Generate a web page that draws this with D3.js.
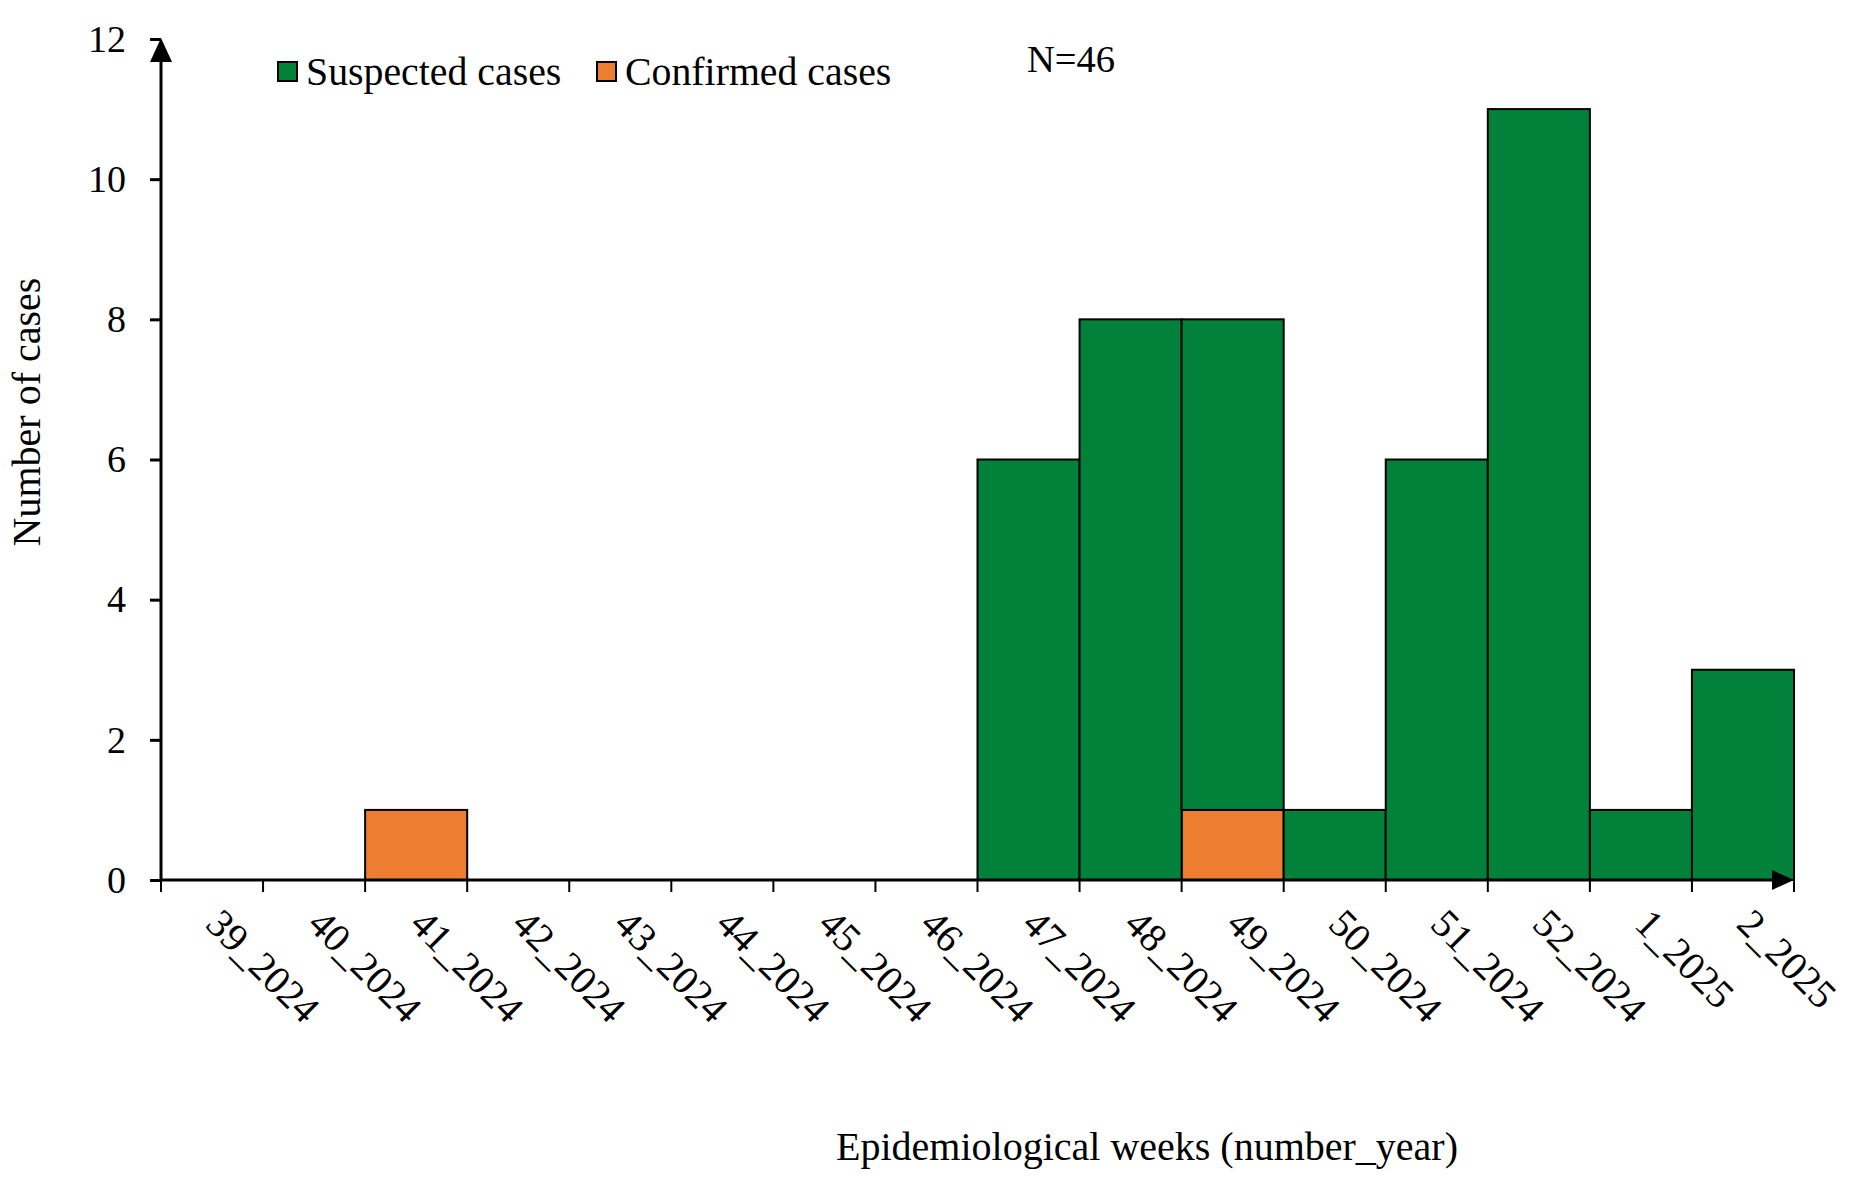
<!DOCTYPE html>
<html>
<head>
<meta charset="utf-8">
<script src="https://cdn.jsdelivr.net/npm/d3@7"></script>
<style>
    body { margin: 0; background: #fff; }
    text { font-family: "Liberation Serif", "Times New Roman", serif; fill: #000; }
</style>
</head>
<body>
<div id="chart"></div>
<script>
// Epidemiological weeks and case counts
const weeks = ["39_2024", "40_2024", "41_2024", "42_2024", "43_2024", "44_2024", "45_2024", "46_2024",
               "47_2024", "48_2024", "49_2024", "50_2024", "51_2024", "52_2024", "1_2025", "2_2025"];
const confirmed = [0, 0, 1, 0, 0, 0, 0, 0, 0, 0, 1, 0, 0, 0, 0, 0];
const suspected = [0, 0, 0, 0, 0, 0, 0, 0, 6, 8, 7, 1, 6, 11, 1, 3];
const yTicks = [0, 2, 4, 6, 8, 10, 12];
const seriesNames = ["Suspected cases", "Confirmed cases"];
const totalLabel = "N=46";

const width = 1855;
const height = 1181;
const margin = { top: 39, right: 61, bottom: 301, left: 161 };
const colors = { "Confirmed cases": "#ed7d31", "Suspected cases": "#02813b" };

const svg = d3.select("#chart")
              .append("svg")
              .attr("width", width)
              .attr("height", height);

const x = d3.scaleBand()
            .domain(weeks)
            .range([margin.left, width - margin.right])
            .padding(0);

const y = d3.scaleLinear()
            .domain([0, 12])
            .range([height - margin.bottom, margin.top]);

// confirmed sits at the bottom, suspected stacked on top
const table = weeks.map((w, i) => ({ week: w, "Confirmed cases": confirmed[i], "Suspected cases": suspected[i] }));
const stacked = d3.stack().keys(["Confirmed cases", "Suspected cases"])(table);

svg.append("g")
   .selectAll("g")
   .data(stacked)
   .enter()
   .append("g")
   .style("fill", d => colors[d.key])
   .selectAll("rect")
   .data(d => d.filter(p => p[1] - p[0] > 0))
   .enter()
   .append("rect")
   .attr("x", d => x(d.data.week))
   .attr("y", d => y(d[1]))
   .attr("width", x.bandwidth())
   .attr("height", d => y(d[0]) - y(d[1]))
   .style("stroke", "#000")
   .style("stroke-width", 2);

// y axis
const yAxis = svg.append("g")
                 .attr("transform", `translate(${margin.left},0)`)
                 .call(d3.axisLeft(y).tickValues(yTicks).tickSize(11).tickPadding(24));
yAxis.select(".domain").remove();
yAxis.selectAll("line").style("stroke", "#000").style("stroke-width", 3);
yAxis.selectAll("text")
     .style("font-size", "38px")
     .style("font-family", "'Liberation Serif', serif");

// x axis ticks at the bin edges
const edges = weeks.map(w => x(w)).concat([x(weeks[weeks.length - 1]) + x.bandwidth()]);
svg.append("g")
   .selectAll("line")
   .data(edges)
   .enter()
   .append("line")
   .attr("x1", d => d)
   .attr("x2", d => d)
   .attr("y1", y(0))
   .attr("y2", y(0) + 12)
   .style("stroke", "#000")
   .style("stroke-width", 2);

// axis lines with arrow heads
svg.append("line")
   .attr("x1", margin.left).attr("x2", margin.left)
   .attr("y1", y(0)).attr("y2", y(12) + 10)
   .style("stroke", "#000").style("stroke-width", 3);
svg.append("path")
   .attr("d", `M${margin.left},${y(12) - 1} L${margin.left - 11},${y(12) + 23} L${margin.left + 11},${y(12) + 23} Z`)
   .style("fill", "#000");

const xEnd = width - margin.right;
svg.append("line")
   .attr("x1", margin.left).attr("x2", xEnd - 10)
   .attr("y1", y(0)).attr("y2", y(0))
   .style("stroke", "#000").style("stroke-width", 3);
svg.append("path")
   .attr("d", `M${xEnd},${y(0)} L${xEnd - 22},${y(0) - 10} L${xEnd - 22},${y(0) + 10} Z`)
   .style("fill", "#000");

// rotated week labels
svg.append("g")
   .selectAll("text")
   .data(weeks)
   .enter()
   .append("text")
   .attr("transform", d => `translate(${x(d) + x.bandwidth() / 2 - 8},${y(0) + 46}) rotate(45)`)
   .style("font-size", "40px")
   .text(d => d);

// axis titles
svg.append("text")
   .attr("x", 1147)
   .attr("y", 1160)
   .attr("text-anchor", "middle")
   .style("font-size", "40px")
   .text("Epidemiological weeks (number_year)");

svg.append("text")
   .attr("transform", `translate(40,412) rotate(-90)`)
   .attr("text-anchor", "middle")
   .style("font-size", "40px")
   .text("Number of cases");

// legend
const legend = svg.append("g")
                  .selectAll("g")
                  .data(seriesNames)
                  .enter()
                  .append("g")
                  .attr("transform", (d, i) => `translate(${[278, 597][i]},62)`);

legend.append("rect")
      .attr("width", 19)
      .attr("height", 19)
      .style("fill", d => colors[d])
      .style("stroke", "#000")
      .style("stroke-width", 2);

legend.append("text")
      .attr("x", 28)
      .attr("y", 23)
      .style("font-size", "39.8px")
      .text(d => d);

svg.append("text")
   .attr("x", 1027)
   .attr("y", 72)
   .style("font-size", "38.5px")
   .text(totalLabel);
</script>
</body>
</html>
